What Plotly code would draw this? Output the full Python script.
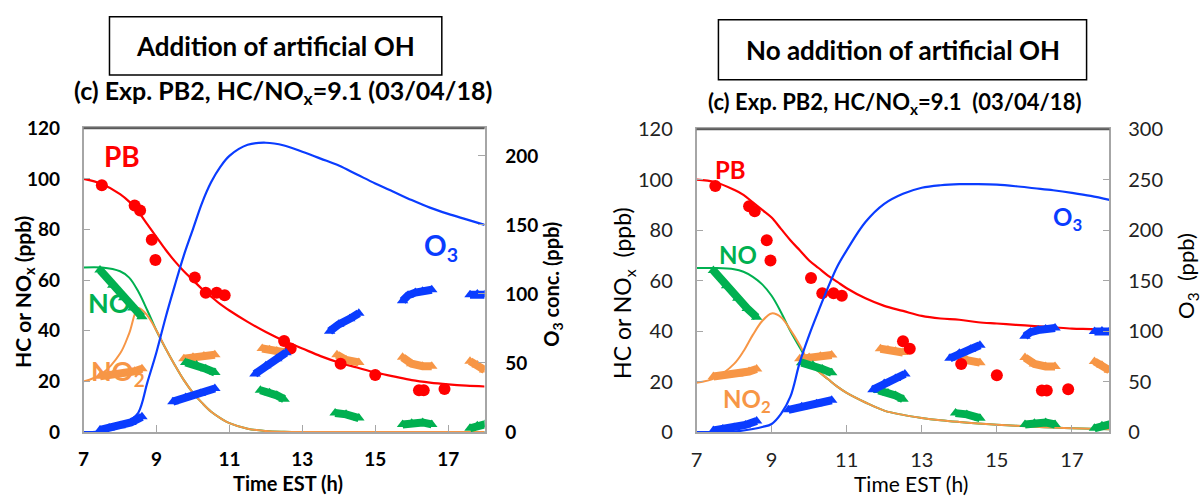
import plotly.graph_objects as go

# ---------------- data ----------------
# Model curves (left panel: with artificial OH)
t_model = [7, 7.5, 8, 8.25, 8.5, 8.75, 9, 9.25, 9.5, 9.75, 10, 10.25, 10.5, 10.75, 11, 11.5, 12, 12.5, 13, 13.5, 14, 14.5, 15, 15.5, 16, 16.5, 17, 17.5, 18]
pb_L  = [100, 98, 94, 91, 87, 82, 77, 72, 67.5, 63.5, 60, 56.5, 53.5, 50.5, 48, 43.5, 39.5, 36, 33, 30, 27.5, 25.5, 23.5, 22, 20.5, 19.5, 18.8, 18.3, 18]
no_L  = [65, 65, 63.5, 61, 55.5, 48, 40, 33, 26.5, 20.5, 15.5, 11.5, 8, 5.5, 3.5, 1.3, 0.4, 0.1, 0, 0, 0, 0, 0, 0, 0, 0, 0, 0, 0]
no2_L = [20, 23, 31, 39, 49, 46, 40, 33, 26.5, 20.5, 15.5, 11.5, 8, 5.5, 3.5, 1.3, 0.4, 0.1, 0, 0, 0, 0, 0, 0, 0, 0, 0, 0, 0]
o3_L  = [0, 0.5, 4, 8, 14, 36, 58, 83, 106, 128, 147, 166, 181, 192, 200, 208, 209.5, 207.5, 203, 198, 193, 186.5, 180, 174, 168, 162.5, 158, 154, 150]

# Model curves (right panel: no artificial OH)
pb_R  = [100, 99, 96, 94, 91, 88, 85, 80.5, 76, 72, 68, 65, 62, 59.5, 57, 53, 50, 48, 46, 45, 44.5, 43.5, 43, 42.5, 42, 41.5, 41, 40.8, 40.5]
no_R  = [65, 65, 64.5, 63.5, 61.5, 58.5, 54, 47.5, 40, 33.5, 27.5, 24, 21, 18, 15.5, 11.7, 8.5, 6.8, 5.6, 4.7, 4, 3.4, 2.9, 2.5, 2.1, 1.8, 1.5, 1.3, 1.1]
no2_R = [19.5, 21.5, 27, 32, 38.5, 44, 47, 45.5, 40.5, 34.5, 27.5, 24, 21, 18, 15.5, 11.7, 8.5, 6.8, 5.6, 4.7, 4, 3.4, 2.9, 2.5, 2.1, 1.8, 1.5, 1.3, 1.1]
o3_R  = [0, 0, 0.5, 1.5, 3, 5, 8, 18, 35, 69, 96, 120, 143, 164, 180, 208, 226, 236, 242, 244.5, 245.5, 245.5, 245, 243.5, 241.5, 239.5, 237, 234, 230]

# Measured PB (same experiment in both panels)
t_pb = [7.5, 8.4, 8.55, 8.87, 8.97, 10.05, 10.35, 10.65, 10.87, 12.5, 12.68, 14.05, 15.0, 16.2, 16.33, 16.9]
pb_obs = [97.5, 89.5, 87.5, 76, 68, 61, 55, 55, 54, 36, 33, 27, 22.5, 16.5, 16.5, 17]

# Measured NO, NO2 (ppb) and O3 (ppb) in six sampling segments (None = gap)
t_no = [7.45, 7.8, 8.1, 8.35, 8.6, None, 9.8, 10.1, 10.35, 10.6, None, 11.85, 12.1, 12.3, 12.5, None,
        13.9, 14.2, 14.55, None, 15.75, 16.0, 16.3, 16.55, None, 17.6, 17.8, 18.0]
no_obs = [64, 58, 53, 49, 45.5, None, 27.5, 26.5, 25, 23.5, None, 16.5, 15.5, 14.5, 13, None,
          7.5, 7, 5.5, None, 3, 3.5, 3.8, 3, None, 1.5, 2.5, 3]
t_no2 = [7.45, 7.8, 8.1, 8.4, 8.6, None, 9.75, 10.0, 10.3, 10.6, None, 11.9, 12.1, 12.3, 12.5, None,
         13.95, 14.2, 14.55, None, 15.75, 16.0, 16.3, 16.55, None, 17.6, 17.8, 18.0]
no2_obs = [22, 22.5, 23, 24, 25, None, 29, 29.5, 30, 30.5, None, 33, 32.5, 32, 31.5, None,
           30.5, 28.5, 27.5, None, 29.5, 27, 26, 26, None, 28, 26.5, 24.5]
t_o3 = [7.45, 7.7, 8.0, 8.3, 8.6, None, 9.45, 9.8, 10.2, 10.6, None, 11.7, 12.0, 12.3, 12.55, None,
        13.75, 14.0, 14.3, 14.55, None, 15.75, 15.9, 16.1, 16.3, 16.55, None, 17.6, 17.8, 18.0]
o3_obs = [1.5, 3, 4.5, 7, 11, None, 22, 25, 28, 31.5, None, 42, 48, 53, 57.5, None,
          73, 78, 82, 86, None, 95, 99, 101, 102, 103, None, 99.5, 100, 99.5]

x_ticks = [7, 9, 11, 13, 15, 17]
hc_ticks = [0, 20, 40, 60, 80, 100, 120]

# ---------------- style ----------------
RED, GREEN, ORANGE, BLUE = "#ff0000", "#00b050", "#f79646", "#0a3cff"
FONT = "Lato"
AX = "#a6a6a6"

fig = go.Figure()

def seg_trace(x, y, color, xa, ya):
    return go.Scatter(x=x, y=y, mode="lines+markers", line=dict(color=color, width=8),
                      marker=dict(symbol="triangle-up", size=10, color=color), xaxis=xa, yaxis=ya)

def add_panel(xa, ya, ya2, pb, no, no2, o3):
    fig.add_trace(go.Scatter(x=t_model, y=pb, mode="lines", line=dict(color=RED, width=2.2, shape="spline"), xaxis=xa, yaxis=ya))
    fig.add_trace(go.Scatter(x=t_model, y=no, mode="lines", line=dict(color=GREEN, width=2, shape="spline"), xaxis=xa, yaxis=ya))
    fig.add_trace(go.Scatter(x=t_model, y=no2, mode="lines", line=dict(color=ORANGE, width=2, shape="spline"), xaxis=xa, yaxis=ya))
    fig.add_trace(seg_trace(t_no2, no2_obs, ORANGE, xa, ya))
    fig.add_trace(seg_trace(t_no, no_obs, GREEN, xa, ya))
    fig.add_trace(go.Scatter(x=t_pb, y=pb_obs, mode="markers", marker=dict(symbol="circle", size=12, color=RED), xaxis=xa, yaxis=ya))
    fig.add_trace(go.Scatter(x=t_model, y=o3, mode="lines", line=dict(color=BLUE, width=2.2, shape="spline"), xaxis=xa, yaxis=ya2))
    fig.add_trace(seg_trace(t_o3, o3_obs, BLUE, xa, ya2))

add_panel("x", "y", "y2", pb_L, no_L, no2_L, o3_L)
add_panel("x3", "y3", "y4", pb_R, no_R, no2_R, o3_R)

W, H = 1202, 504
def px(v): return v / W
def py(v): return 1 - v / H

TOP, BOT = 121, 440
bold_tick = dict(family=FONT, size=19, color="black", weight="bold")
reg_tick = dict(family=FONT, size=20, color="#222")

common_x = dict(range=[7, 18], tickvals=x_ticks, ticks="inside", ticklen=7, tickcolor=AX,
                showline=True, linecolor=AX, linewidth=1.5, mirror=True, showgrid=False,
                zeroline=False, ticklabelstandoff=9)
common_y = dict(range=[0, 120], tickvals=hc_ticks, ticks="inside", ticklen=7, tickcolor=AX,
                showline=True, linecolor=AX, linewidth=1.5, showgrid=False, zeroline=False,
                ticklabelstandoff=18)

fig.update_layout(
    width=W, height=H, margin=dict(l=0, r=0, t=0, b=0),
    paper_bgcolor="white", plot_bgcolor="white", showlegend=False,
    xaxis=dict(domain=[px(78), px(481)], anchor="y", tickfont=bold_tick, **common_x),
    yaxis=dict(domain=[py(BOT), py(TOP)], anchor="x", tickfont=bold_tick, **common_y),
    yaxis2=dict(range=[0, 220], tickvals=[0, 50, 100, 150, 200], overlaying="y", side="right", anchor="x",
                ticks="inside", ticklen=7, tickcolor=AX, showline=True, linecolor=AX, linewidth=1.5,
                showgrid=False, zeroline=False, tickfont=bold_tick, ticklabelstandoff=15),
    xaxis3=dict(domain=[px(694), px(1109)], anchor="y3", tickfont=reg_tick, **common_x),
    yaxis3=dict(domain=[py(BOT), py(TOP + 1)], anchor="x3", tickfont=reg_tick, **common_y),
    yaxis4=dict(range=[0, 300], tickvals=[0, 50, 100, 150, 200, 250, 300], overlaying="y3", side="right", anchor="x3",
                ticks="inside", ticklen=7, tickcolor=AX, showline=True, linecolor=AX, linewidth=1.5,
                showgrid=False, zeroline=False, tickfont=reg_tick, ticklabelstandoff=13),
)

# darker top frame lines
for x0, x1, yy in [(78, 481, TOP), (694, 1109, TOP + 1)]:
    fig.add_shape(type="line", xref="paper", yref="paper", x0=px(x0), x1=px(x1), y0=py(yy), y1=py(yy),
                  line=dict(color="#595959", width=2))

# boxes with headings
for x0, x1, y0, y1 in [(104, 438, 4, 65), (716, 1086, 7, 70)]:
    fig.add_shape(type="rect", xref="paper", yref="paper", x0=px(x0), x1=px(x1), y0=py(y1), y1=py(y0),
                  line=dict(color="black", width=1.5), fillcolor="white")

def ann(text, x, y, size, color="black", weight="bold", angle=0, yanchor="middle"):
    fig.add_annotation(text=text, x=x, y=y, xref="paper", yref="paper", showarrow=False, textangle=angle,
                       font=dict(family=FONT, size=size, color=color, weight=weight),
                       xanchor="center", yanchor=yanchor)

ann("Addition of artificial OH", px(271), py(35), 26)
ann("No addition of artificial OH", px(901), py(39), 26)
ann("(c) Exp. PB2, HC/NO<sub>x</sub>=9.1 (03/04/18)", px(278), py(83), 25)
ann("(c) Exp. PB2, HC/NO<sub>x</sub>=9.1  (03/04/18)", px(893), py(94), 22)

# axis titles
ann("HC or NO<sub>x</sub> (ppb)", px(18), py(293), 21, angle=-90)
ann("O<sub>3</sub> conc. (ppb)", px(549), py(285), 20, angle=-90)
ann("Time EST (h)", px(283), -0.008, 20, yanchor="bottom")
ann("HC or NO<sub>x</sub>  (ppb)", px(620), py(294), 23, weight="normal", angle=-90)
ann("O<sub>3</sub>  (ppb)", px(1187), py(276), 22, weight="normal", angle=-90)
ann("Time EST (h)", px(910), -0.01, 21, weight="normal", yanchor="bottom")

# series labels
def lab(text, x, y, color, size, xr, yr):
    fig.add_annotation(text=text, x=x, y=y, xref=xr, yref=yr, showarrow=False,
                       font=dict(family=FONT, size=size, color=color, weight="bold"))

lab("PB", 8.05, 109, RED, 28, "x", "y")
lab("NO", 7.7, 51, GREEN, 27, "x", "y")
lab("NO<sub>2</sub>", 7.95, 23.5, ORANGE, 27, "x", "y")
lab("O<sub>3</sub>", 16.8, 73, BLUE, 28, "x", "y")
lab("PB", 7.9, 104, RED, 24, "x3", "y3")
lab("NO", 8.1, 70.5, GREEN, 24, "x3", "y3")
lab("NO<sub>2</sub>", 8.35, 12.5, ORANGE, 24, "x3", "y3")
lab("O<sub>3</sub>", 16.87, 84.5, BLUE, 24, "x3", "y3")

fig.write_html("out.html", config={"displayModeBar": False},
               post_script="document.body.style.margin='0px';")
